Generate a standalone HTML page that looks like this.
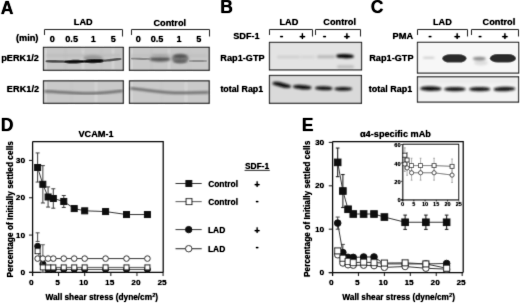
<!DOCTYPE html>
<html><head><meta charset="utf-8"><style>
html,body{margin:0;padding:0;background:#fff;overflow:hidden;}
svg{display:block;}
text{font-family:"Liberation Sans", sans-serif;font-weight:bold;fill:#000;}
</style></head><body>
<svg width="520" height="303" viewBox="0 0 520 303">
<defs>
<filter id="b0" x="-20%" y="-50%" width="140%" height="200%"><feGaussianBlur stdDeviation="0.5"/></filter>
<filter id="b1" x="-20%" y="-50%" width="140%" height="200%"><feGaussianBlur stdDeviation="0.8"/></filter>
<filter id="b2" x="-20%" y="-80%" width="140%" height="260%"><feGaussianBlur stdDeviation="1.3"/></filter>
<filter id="bt" x="0" y="0" width="520" height="303" filterUnits="userSpaceOnUse"><feConvolveMatrix order="3" kernelMatrix="0.0113 0.0838 0.0113 0.0838 0.6193 0.0838 0.0113 0.0838 0.0113" edgeMode="none"/></filter>
<filter id="btx" x="0" y="0" width="520" height="303" filterUnits="userSpaceOnUse"><feConvolveMatrix order="3" kernelMatrix="0.0192 0.1001 0.0192 0.1001 0.5228 0.1001 0.0192 0.1001 0.0192" edgeMode="none"/><feComponentTransfer><feFuncA type="table" tableValues="0 0.26 0.56 0.84 0.98 1"/></feComponentTransfer></filter>
</defs>
<rect width="520" height="303" fill="#fff"/>
<g filter="url(#bt)">

<rect x="43.5" y="47.4" width="79.80" height="22.90" fill="#c7c7c7"/>
<rect x="129.5" y="47.4" width="79.70" height="22.90" fill="#c8c8c8"/>
<rect x="43.5" y="80.85" width="79.80" height="22.45" fill="#c9c9c9"/>
<rect x="129.5" y="80.85" width="79.70" height="22.45" fill="#cacaca"/>
<rect x="45" y="48.5" width="1.2" height="21.5" fill="#e8e8e8" filter="url(#b1)"/>
<rect x="64" y="48.5" width="3" height="21.5" fill="#c2c2c2" filter="url(#b1)"/>
<rect x="82" y="48.5" width="2" height="21.5" fill="#d6d6d6" filter="url(#b1)"/>
<rect x="100" y="48.5" width="3" height="21.5" fill="#c4c4c4" filter="url(#b1)"/>
<rect x="112" y="48.5" width="2" height="21.5" fill="#d8d8d8" filter="url(#b1)"/>
<rect x="131" y="48.5" width="1.5" height="21.5" fill="#e0e0e0" filter="url(#b1)"/>
<rect x="150" y="48.5" width="3" height="21.5" fill="#c4c4c4" filter="url(#b1)"/>
<rect x="168" y="48.5" width="2" height="21.5" fill="#d8d8d8" filter="url(#b1)"/>
<rect x="188" y="48.5" width="3" height="21.5" fill="#c6c6c6" filter="url(#b1)"/>
<rect x="45" y="81.5" width="1.2" height="21.5" fill="#e4e4e4" filter="url(#b1)"/>
<rect x="70" y="81.5" width="3" height="21.5" fill="#c6c6c6" filter="url(#b1)"/>
<rect x="95" y="81.5" width="2" height="21.5" fill="#d8d8d8" filter="url(#b1)"/>
<rect x="131" y="81.5" width="1.5" height="21.5" fill="#e0e0e0" filter="url(#b1)"/>
<rect x="160" y="81.5" width="3" height="21.5" fill="#c8c8c8" filter="url(#b1)"/>
<rect x="185" y="81.5" width="2" height="21.5" fill="#dadada" filter="url(#b1)"/>
<rect x="46" y="54.00" width="75" height="3" rx="1.5" fill="#bdbdbd" opacity="1.0" filter="url(#b2)"/>
<rect x="131" y="54.30" width="76" height="3" rx="1.5" fill="#c0c0c0" opacity="1.0" filter="url(#b2)"/>
<path d="M46.44,60.16 C51.09,59.71 60.41,60.11 65.06,60.56 C66.31,60.56 66.31,62.64 65.06,62.64 C60.41,63.09 51.09,62.70 46.44,62.24 C45.19,62.24 45.19,60.16 46.44,60.16Z" fill="#4a4a4a" filter="url(#b0)"/>
<ellipse cx="93" cy="58.0" rx="10" ry="3.0" fill="#989898" filter="url(#b1)"/>
<path d="M65.63,60.54 C70.19,59.73 79.31,59.53 83.87,60.34 C85.38,60.34 85.38,62.86 83.87,62.86 C79.31,63.67 70.19,63.87 65.63,63.06 C64.12,63.06 64.12,60.54 65.63,60.54Z" fill="#0c0c0c" filter="url(#b0)"/>
<path d="M85.20,60.07 C89.60,59.21 98.40,58.61 102.80,59.47 C104.40,59.47 104.40,62.13 102.80,62.13 C98.40,62.98 89.60,63.59 85.20,62.73 C83.60,62.73 83.60,60.07 85.20,60.07Z" fill="#080808" filter="url(#b0)"/>
<path d="M103.94,59.56 C108.09,59.11 116.41,57.51 120.56,57.96 C121.81,57.96 121.81,60.04 120.56,60.04 C116.41,60.49 108.09,62.09 103.94,61.64 C102.69,61.64 102.69,59.56 103.94,59.56Z" fill="#505050" filter="url(#b0)"/>
<path d="M131.72,57.80 C136.11,57.45 144.89,57.85 149.28,58.20 C150.24,58.20 150.24,59.80 149.28,59.80 C144.89,60.15 136.11,59.75 131.72,59.40 C130.76,59.40 130.76,57.80 131.72,57.80Z" fill="#858585" filter="url(#b0)"/>
<ellipse cx="160" cy="59.2" rx="10.5" ry="2.6" fill="#5a5a5a" filter="url(#b1)"/>
<ellipse cx="160" cy="55.5" rx="9" ry="1.6" fill="#a8a8a8" filter="url(#b1)"/>
<ellipse cx="180.2" cy="58.6" rx="8.6" ry="4.8" fill="#7c7c7c" filter="url(#b1)"/>
<ellipse cx="180.2" cy="56.2" rx="7" ry="1.5" fill="#4a4a4a" filter="url(#b1)"/>
<ellipse cx="180.2" cy="61.2" rx="7" ry="1.4" fill="#5a5a5a" filter="url(#b1)"/>
<path d="M189.72,60.20 C193.86,59.85 202.14,59.85 206.28,60.20 C207.24,60.20 207.24,61.80 206.28,61.80 C202.14,62.15 193.86,62.15 189.72,61.80 C188.76,61.80 188.76,60.20 189.72,60.20Z" fill="#8a8a8a" filter="url(#b0)"/>
<path d="M44.5,91.3 C60,91.6 75,93.6 90,93.4 C105,93.2 115,91.8 122.5,90.8" fill="none" stroke="#5c5c5c" stroke-width="2.3" filter="url(#b1)"/>
<path d="M130.5,88.4 C145,89.6 160,92.4 175,92.8 C190,93.0 200,92.8 208.5,92.4" fill="none" stroke="#5c5c5c" stroke-width="2.3" filter="url(#b1)"/>
<rect x="269.5" y="42.45" width="92.00" height="27.45" fill="#e3e3e3"/>
<rect x="269.5" y="75.5" width="91.90" height="27.80" fill="#dadada"/>
<rect x="277" y="55.75" width="23" height="2.5" rx="1.25" fill="#cdcdcd" opacity="1.0" filter="url(#b2)"/>
<rect x="300" y="55.75" width="15" height="2.5" rx="1.25" fill="#d3d3d3" opacity="1.0" filter="url(#b2)"/>
<rect x="317" y="55.30" width="18" height="3" rx="1.5" fill="#b8b8b8" opacity="1.0" filter="url(#b2)"/>
<path d="M337.62,54.53 C341.34,53.59 348.76,53.98 352.48,54.93 C354.24,54.93 354.24,57.87 352.48,57.87 C348.76,58.81 341.34,58.41 337.62,57.47 C335.86,57.47 335.86,54.53 337.62,54.53Z" fill="#050505" filter="url(#b1)"/>
<rect x="337" y="65.30" width="17" height="3" rx="1.5" fill="#bdbdbd" opacity="1.0" filter="url(#b2)"/>
<path d="M273.84,82.02 C277.77,80.76 285.63,83.76 289.56,85.02 C291.21,85.02 291.21,87.78 289.56,87.78 C285.63,89.05 277.77,86.05 273.84,84.78 C272.19,84.78 272.19,82.02 273.84,82.02Z" fill="#080808" filter="url(#b1)"/>
<path d="M294.39,85.28 C298.34,84.07 306.26,85.07 310.21,86.28 C311.80,86.28 311.80,88.92 310.21,88.92 C306.26,90.13 298.34,89.13 294.39,87.92 C292.80,87.92 292.80,85.28 294.39,85.28Z" fill="#0a0a0a" filter="url(#b1)"/>
<path d="M316.25,87.03 C320.03,85.96 327.57,86.26 331.35,87.33 C332.75,87.33 332.75,89.67 331.35,89.67 C327.57,90.74 320.03,90.44 316.25,89.37 C314.85,89.37 314.85,87.03 316.25,87.03Z" fill="#0c0c0c" filter="url(#b1)"/>
<path d="M335.65,87.63 C339.48,86.56 347.12,86.66 350.95,87.73 C352.35,87.73 352.35,90.07 350.95,90.07 C347.12,91.14 339.48,91.04 335.65,89.97 C334.25,89.97 334.25,87.63 335.65,87.63Z" fill="#0c0c0c" filter="url(#b1)"/>
<rect x="417.5" y="42.4" width="101.10" height="30.70" fill="#f7f7f7"/>
<rect x="417.5" y="76.8" width="101.00" height="25.30" fill="#f3f3f3"/>
<rect x="419" y="78.50" width="98" height="5" rx="2.5" fill="#ebebeb" opacity="1.0" filter="url(#b2)"/>
<rect x="423" y="57.00" width="11.5" height="1.6" rx="0.8" fill="#c0c0c0" opacity="1.0" filter="url(#b2)"/>
<rect x="442.2" y="54.3" width="24.4" height="8.3" rx="8" ry="4.15" fill="#2a2a2a" filter="url(#b0)"/>
<ellipse cx="481" cy="62.8" rx="7" ry="2.6" fill="#dedede" filter="url(#b2)"/>
<ellipse cx="479.3" cy="58.7" rx="6.5" ry="1.9" fill="#8a8a8a" filter="url(#b1)"/>
<rect x="489.8" y="54.0" width="26.2" height="8.5" rx="8" ry="4.25" fill="#2a2a2a" filter="url(#b0)"/>
<path d="M421.44,87.14 C426.14,85.76 435.56,86.16 440.26,87.53 C441.78,87.53 441.78,90.06 440.26,90.06 C435.56,91.44 426.14,91.05 421.44,89.67 C419.92,89.67 419.92,87.14 421.44,87.14Z" fill="#101010" filter="url(#b1)"/>
<path d="M445.39,87.89 C450.14,86.57 459.66,86.57 464.41,87.89 C465.86,87.89 465.86,90.31 464.41,90.31 C459.66,91.63 450.14,91.63 445.39,90.31 C443.94,90.31 443.94,87.89 445.39,87.89Z" fill="#121212" filter="url(#b1)"/>
<path d="M470.39,87.89 C475.07,86.57 484.43,86.57 489.11,87.89 C490.56,87.89 490.56,90.31 489.11,90.31 C484.43,91.63 475.07,91.63 470.39,90.31 C468.94,90.31 468.94,87.89 470.39,87.89Z" fill="#121212" filter="url(#b1)"/>
<path d="M494.94,87.94 C499.67,86.56 509.13,86.16 513.86,87.53 C515.38,87.53 515.38,90.06 513.86,90.06 C509.13,91.44 499.67,91.84 494.94,90.47 C493.42,90.47 493.42,87.94 494.94,87.94Z" fill="#121212" filter="url(#b1)"/>
<rect x="43.5" y="47.4" width="79.80" height="22.90" fill="none" stroke="#1c1c1c" stroke-width="1.2"/>
<rect x="129.5" y="47.4" width="79.70" height="22.90" fill="none" stroke="#1c1c1c" stroke-width="1.2"/>
<rect x="43.5" y="80.85" width="79.80" height="22.45" fill="none" stroke="#1c1c1c" stroke-width="1.2"/>
<rect x="129.5" y="80.85" width="79.70" height="22.45" fill="none" stroke="#1c1c1c" stroke-width="1.2"/>
<rect x="269.5" y="42.45" width="92.00" height="27.45" fill="none" stroke="#1c1c1c" stroke-width="1.2"/>
<rect x="269.5" y="75.5" width="91.90" height="27.80" fill="none" stroke="#1c1c1c" stroke-width="1.2"/>
<rect x="417.5" y="42.4" width="101.10" height="30.70" fill="none" stroke="#1c1c1c" stroke-width="1.2"/>
<rect x="417.5" y="76.8" width="101.00" height="25.30" fill="none" stroke="#1c1c1c" stroke-width="1.2"/>
<polyline points="44.5,35.0 44.5,29.5 122.5,29.5 122.5,36.5" fill="none" stroke="#222" stroke-width="1"/>
<polyline points="131.5,35.0 131.5,29.5 209.5,29.5 209.5,36.5" fill="none" stroke="#222" stroke-width="1"/>
<polyline points="269.5,35.0 269.5,29.5 312.5,29.5 312.5,36.5" fill="none" stroke="#222" stroke-width="1"/>
<polyline points="315.5,35.0 315.5,29.5 360.5,29.5 360.5,36.5" fill="none" stroke="#222" stroke-width="1"/>
<polyline points="417.5,35.0 417.5,29.5 467.5,29.5 467.5,36.5" fill="none" stroke="#222" stroke-width="1"/>
<polyline points="471.5,35.0 471.5,29.5 518.5,29.5 518.5,36.5" fill="none" stroke="#222" stroke-width="1"/>
<path d="M32.6 141.6 H163.2 V272.4 M32.6 141.6 V276 M29 272.4 H163.2" fill="none" stroke="#000" stroke-width="1.25"/>
<line x1="29.00" y1="272.40" x2="32.50" y2="272.40" stroke="#111" stroke-width="1"/>
<line x1="29.00" y1="235.07" x2="32.50" y2="235.07" stroke="#111" stroke-width="1"/>
<line x1="29.00" y1="197.74" x2="32.50" y2="197.74" stroke="#111" stroke-width="1"/>
<line x1="29.00" y1="160.41" x2="32.50" y2="160.41" stroke="#111" stroke-width="1"/>
<line x1="58.54" y1="272.40" x2="58.54" y2="276.00" stroke="#111" stroke-width="1"/>
<line x1="84.68" y1="272.40" x2="84.68" y2="276.00" stroke="#111" stroke-width="1"/>
<line x1="110.82" y1="272.40" x2="110.82" y2="276.00" stroke="#111" stroke-width="1"/>
<line x1="136.96" y1="272.40" x2="136.96" y2="276.00" stroke="#111" stroke-width="1"/>
<line x1="163.10" y1="272.40" x2="163.10" y2="276.00" stroke="#111" stroke-width="1"/>
<line x1="37.63" y1="152.94" x2="37.63" y2="182.06" stroke="#3a3a3a" stroke-width="1"/>
<line x1="35.63" y1="152.94" x2="39.63" y2="152.94" stroke="#3a3a3a" stroke-width="1"/>
<line x1="35.63" y1="182.06" x2="39.63" y2="182.06" stroke="#3a3a3a" stroke-width="1"/>
<line x1="42.86" y1="165.64" x2="42.86" y2="202.97" stroke="#3a3a3a" stroke-width="1"/>
<line x1="40.86" y1="165.64" x2="44.86" y2="165.64" stroke="#3a3a3a" stroke-width="1"/>
<line x1="40.86" y1="202.97" x2="44.86" y2="202.97" stroke="#3a3a3a" stroke-width="1"/>
<line x1="48.08" y1="186.91" x2="48.08" y2="207.07" stroke="#3a3a3a" stroke-width="1"/>
<line x1="46.08" y1="186.91" x2="50.08" y2="186.91" stroke="#3a3a3a" stroke-width="1"/>
<line x1="46.08" y1="207.07" x2="50.08" y2="207.07" stroke="#3a3a3a" stroke-width="1"/>
<line x1="53.31" y1="188.78" x2="53.31" y2="208.19" stroke="#3a3a3a" stroke-width="1"/>
<line x1="51.31" y1="188.78" x2="55.31" y2="188.78" stroke="#3a3a3a" stroke-width="1"/>
<line x1="51.31" y1="208.19" x2="55.31" y2="208.19" stroke="#3a3a3a" stroke-width="1"/>
<line x1="63.77" y1="195.50" x2="63.77" y2="207.45" stroke="#3a3a3a" stroke-width="1"/>
<line x1="61.77" y1="195.50" x2="65.77" y2="195.50" stroke="#3a3a3a" stroke-width="1"/>
<line x1="61.77" y1="207.45" x2="65.77" y2="207.45" stroke="#3a3a3a" stroke-width="1"/>
<polyline points="37.63,167.50 42.86,184.30 48.08,196.99 53.31,198.49 63.77,201.47 74.22,208.57 84.68,210.81 105.59,211.55 126.50,214.54 147.42,214.54" fill="none" stroke="#333" stroke-width="1"/>
<rect x="34.63" y="164.50" width="6" height="6" fill="#111" stroke="#111" stroke-width="1.0"/>
<rect x="39.86" y="181.30" width="6" height="6" fill="#111" stroke="#111" stroke-width="1.0"/>
<rect x="45.08" y="193.99" width="6" height="6" fill="#111" stroke="#111" stroke-width="1.0"/>
<rect x="50.31" y="195.49" width="6" height="6" fill="#111" stroke="#111" stroke-width="1.0"/>
<rect x="60.77" y="198.47" width="6" height="6" fill="#111" stroke="#111" stroke-width="1.0"/>
<rect x="71.22" y="205.57" width="6" height="6" fill="#111" stroke="#111" stroke-width="1.0"/>
<rect x="81.68" y="207.81" width="6" height="6" fill="#111" stroke="#111" stroke-width="1.0"/>
<rect x="102.59" y="208.55" width="6" height="6" fill="#111" stroke="#111" stroke-width="1.0"/>
<rect x="123.50" y="211.54" width="6" height="6" fill="#111" stroke="#111" stroke-width="1.0"/>
<rect x="144.42" y="211.54" width="6" height="6" fill="#111" stroke="#111" stroke-width="1.0"/>
<line x1="37.63" y1="232.83" x2="37.63" y2="241.42" stroke="#444" stroke-width="1"/>
<line x1="35.63" y1="232.83" x2="39.63" y2="232.83" stroke="#444" stroke-width="1"/>
<line x1="35.63" y1="241.42" x2="39.63" y2="241.42" stroke="#444" stroke-width="1"/>
<line x1="42.86" y1="244.78" x2="42.86" y2="272.40" stroke="#555" stroke-width="1"/>
<line x1="40.86" y1="244.78" x2="44.86" y2="244.78" stroke="#555" stroke-width="1"/>
<line x1="40.86" y1="272.40" x2="44.86" y2="272.40" stroke="#555" stroke-width="1"/>
<polyline points="37.63,246.27 42.86,263.81 48.08,269.41 53.31,269.41 63.77,269.41 74.22,269.41 84.68,269.41 105.59,269.41 126.50,269.41 147.42,269.41" fill="none" stroke="#444" stroke-width="1"/>
<circle cx="37.63" cy="246.27" r="3.0" fill="#111" stroke="#111" stroke-width="1.0"/>
<circle cx="42.86" cy="263.81" r="3.0" fill="#111" stroke="#111" stroke-width="1.0"/>
<circle cx="48.08" cy="269.41" r="3.0" fill="#111" stroke="#111" stroke-width="1.0"/>
<circle cx="53.31" cy="269.41" r="3.0" fill="#111" stroke="#111" stroke-width="1.0"/>
<circle cx="63.77" cy="269.41" r="3.0" fill="#111" stroke="#111" stroke-width="1.0"/>
<circle cx="74.22" cy="269.41" r="3.0" fill="#111" stroke="#111" stroke-width="1.0"/>
<circle cx="84.68" cy="269.41" r="3.0" fill="#111" stroke="#111" stroke-width="1.0"/>
<circle cx="105.59" cy="269.41" r="3.0" fill="#111" stroke="#111" stroke-width="1.0"/>
<circle cx="126.50" cy="269.41" r="3.0" fill="#111" stroke="#111" stroke-width="1.0"/>
<circle cx="147.42" cy="269.41" r="3.0" fill="#111" stroke="#111" stroke-width="1.0"/>
<polyline points="37.63,258.59 42.86,258.59 48.08,258.59 53.31,258.59 63.77,258.59 74.22,258.59 84.68,258.59 105.59,258.59 126.50,258.59 147.42,258.59" fill="none" stroke="#333" stroke-width="1"/>
<circle cx="37.63" cy="258.59" r="2.8" fill="#fff" stroke="#111" stroke-width="1.0"/>
<circle cx="42.86" cy="258.59" r="2.8" fill="#fff" stroke="#111" stroke-width="1.0"/>
<circle cx="48.08" cy="258.59" r="2.8" fill="#fff" stroke="#111" stroke-width="1.0"/>
<circle cx="53.31" cy="258.59" r="2.8" fill="#fff" stroke="#111" stroke-width="1.0"/>
<circle cx="63.77" cy="258.59" r="2.8" fill="#fff" stroke="#111" stroke-width="1.0"/>
<circle cx="74.22" cy="258.59" r="2.8" fill="#fff" stroke="#111" stroke-width="1.0"/>
<circle cx="84.68" cy="258.59" r="2.8" fill="#fff" stroke="#111" stroke-width="1.0"/>
<circle cx="105.59" cy="258.59" r="2.8" fill="#fff" stroke="#111" stroke-width="1.0"/>
<circle cx="126.50" cy="258.59" r="2.8" fill="#fff" stroke="#111" stroke-width="1.0"/>
<circle cx="147.42" cy="258.59" r="2.8" fill="#fff" stroke="#111" stroke-width="1.0"/>
<polyline points="37.63,251.12 42.86,267.40 48.08,267.40 53.31,267.40 63.77,267.40 74.22,267.40 84.68,267.40 105.59,267.40 126.50,267.40 147.42,267.40" fill="none" stroke="#555" stroke-width="1"/>
<rect x="35.13" y="248.62" width="5.0" height="5.0" fill="#fff" stroke="#111" stroke-width="1.0"/>
<rect x="40.36" y="264.90" width="5.0" height="5.0" fill="#fff" stroke="#111" stroke-width="1.0"/>
<rect x="45.58" y="264.90" width="5.0" height="5.0" fill="#fff" stroke="#111" stroke-width="1.0"/>
<rect x="50.81" y="264.90" width="5.0" height="5.0" fill="#fff" stroke="#111" stroke-width="1.0"/>
<rect x="61.27" y="264.90" width="5.0" height="5.0" fill="#fff" stroke="#111" stroke-width="1.0"/>
<rect x="71.72" y="264.90" width="5.0" height="5.0" fill="#fff" stroke="#111" stroke-width="1.0"/>
<rect x="82.18" y="264.90" width="5.0" height="5.0" fill="#fff" stroke="#111" stroke-width="1.0"/>
<rect x="103.09" y="264.90" width="5.0" height="5.0" fill="#fff" stroke="#111" stroke-width="1.0"/>
<rect x="124.00" y="264.90" width="5.0" height="5.0" fill="#fff" stroke="#111" stroke-width="1.0"/>
<rect x="144.92" y="264.90" width="5.0" height="5.0" fill="#fff" stroke="#111" stroke-width="1.0"/>
<line x1="244.60" y1="170.40" x2="269.80" y2="170.40" stroke="#111" stroke-width="0.9"/>
<line x1="175.50" y1="183.50" x2="201.70" y2="183.50" stroke="#333" stroke-width="1"/>
<rect x="185.90" y="180.55" width="5.9" height="5.9" fill="#111" stroke="#111" stroke-width="1.0"/>
<line x1="175.50" y1="201.60" x2="201.70" y2="201.60" stroke="#666" stroke-width="1.1"/>
<rect x="186.05" y="198.65" width="5.9" height="5.9" fill="#fff" stroke="#111" stroke-width="1.0"/>
<line x1="175.50" y1="229.60" x2="201.70" y2="229.60" stroke="#333" stroke-width="1"/>
<circle cx="188.70" cy="229.60" r="3.2" fill="#111" stroke="#111" stroke-width="1.0"/>
<line x1="175.50" y1="248.70" x2="201.70" y2="248.70" stroke="#333" stroke-width="1.1"/>
<circle cx="188.70" cy="248.70" r="3.2" fill="#fff" stroke="#111" stroke-width="1.0"/>
<path d="M332.6 141.6 H463.2 V272.6 M332.6 141.6 V276 M328.8 272.6 H463.2" fill="none" stroke="#000" stroke-width="1.25"/>
<line x1="328.80" y1="272.60" x2="332.60" y2="272.60" stroke="#111" stroke-width="1"/>
<line x1="328.80" y1="229.20" x2="332.60" y2="229.20" stroke="#111" stroke-width="1"/>
<line x1="328.80" y1="185.80" x2="332.60" y2="185.80" stroke="#111" stroke-width="1"/>
<line x1="328.80" y1="142.40" x2="332.60" y2="142.40" stroke="#111" stroke-width="1"/>
<line x1="358.44" y1="272.60" x2="358.44" y2="276.00" stroke="#111" stroke-width="1"/>
<line x1="384.38" y1="272.60" x2="384.38" y2="276.00" stroke="#111" stroke-width="1"/>
<line x1="410.32" y1="272.60" x2="410.32" y2="276.00" stroke="#111" stroke-width="1"/>
<line x1="436.26" y1="272.60" x2="436.26" y2="276.00" stroke="#111" stroke-width="1"/>
<line x1="462.20" y1="272.60" x2="462.20" y2="276.00" stroke="#111" stroke-width="1"/>
<line x1="337.69" y1="148.04" x2="337.69" y2="176.69" stroke="#222" stroke-width="1.1"/>
<line x1="335.89" y1="148.04" x2="339.49" y2="148.04" stroke="#222" stroke-width="1.1"/>
<line x1="335.89" y1="176.69" x2="339.49" y2="176.69" stroke="#222" stroke-width="1.1"/>
<line x1="342.88" y1="174.52" x2="342.88" y2="207.50" stroke="#222" stroke-width="1.1"/>
<line x1="341.08" y1="174.52" x2="344.68" y2="174.52" stroke="#222" stroke-width="1.1"/>
<line x1="341.08" y1="207.50" x2="344.68" y2="207.50" stroke="#222" stroke-width="1.1"/>
<line x1="405.13" y1="215.10" x2="405.13" y2="229.42" stroke="#222" stroke-width="1.1"/>
<line x1="403.33" y1="215.10" x2="406.93" y2="215.10" stroke="#222" stroke-width="1.1"/>
<line x1="403.33" y1="229.42" x2="406.93" y2="229.42" stroke="#222" stroke-width="1.1"/>
<line x1="425.88" y1="215.10" x2="425.88" y2="229.42" stroke="#222" stroke-width="1.1"/>
<line x1="424.08" y1="215.10" x2="427.68" y2="215.10" stroke="#222" stroke-width="1.1"/>
<line x1="424.08" y1="229.42" x2="427.68" y2="229.42" stroke="#222" stroke-width="1.1"/>
<line x1="446.64" y1="215.10" x2="446.64" y2="229.42" stroke="#222" stroke-width="1.1"/>
<line x1="444.84" y1="215.10" x2="448.44" y2="215.10" stroke="#222" stroke-width="1.1"/>
<line x1="444.84" y1="229.42" x2="448.44" y2="229.42" stroke="#222" stroke-width="1.1"/>
<polyline points="337.69,162.36 342.88,191.01 348.06,209.24 353.25,214.01 363.63,214.01 374.00,214.01 384.38,217.05 405.13,222.26 425.88,222.26 446.64,222.26" fill="none" stroke="#333" stroke-width="1"/>
<rect x="334.39" y="159.06" width="6.6" height="6.6" fill="#111" stroke="#111" stroke-width="1.0"/>
<rect x="339.58" y="187.71" width="6.6" height="6.6" fill="#111" stroke="#111" stroke-width="1.0"/>
<rect x="344.76" y="205.94" width="6.6" height="6.6" fill="#111" stroke="#111" stroke-width="1.0"/>
<rect x="349.95" y="210.71" width="6.6" height="6.6" fill="#111" stroke="#111" stroke-width="1.0"/>
<rect x="360.33" y="210.71" width="6.6" height="6.6" fill="#111" stroke="#111" stroke-width="1.0"/>
<rect x="370.70" y="210.71" width="6.6" height="6.6" fill="#111" stroke="#111" stroke-width="1.0"/>
<rect x="381.08" y="213.75" width="6.6" height="6.6" fill="#111" stroke="#111" stroke-width="1.0"/>
<rect x="401.83" y="218.96" width="6.6" height="6.6" fill="#111" stroke="#111" stroke-width="1.0"/>
<rect x="422.58" y="218.96" width="6.6" height="6.6" fill="#111" stroke="#111" stroke-width="1.0"/>
<rect x="443.34" y="218.96" width="6.6" height="6.6" fill="#111" stroke="#111" stroke-width="1.0"/>
<line x1="337.69" y1="217.05" x2="337.69" y2="229.20" stroke="#444" stroke-width="1"/>
<line x1="335.69" y1="217.05" x2="339.69" y2="217.05" stroke="#444" stroke-width="1"/>
<line x1="335.69" y1="229.20" x2="339.69" y2="229.20" stroke="#444" stroke-width="1"/>
<line x1="342.88" y1="244.39" x2="342.88" y2="261.75" stroke="#444" stroke-width="1"/>
<line x1="340.88" y1="244.39" x2="344.88" y2="244.39" stroke="#444" stroke-width="1"/>
<line x1="340.88" y1="261.75" x2="344.88" y2="261.75" stroke="#444" stroke-width="1"/>
<polyline points="337.69,223.12 342.88,252.64 348.06,257.41 353.25,257.41 363.63,256.98 374.00,256.98 384.38,263.92 405.13,263.92 425.88,263.92 446.64,263.49" fill="none" stroke="#333" stroke-width="1"/>
<circle cx="337.69" cy="223.12" r="3.3" fill="#111" stroke="#111" stroke-width="1.0"/>
<circle cx="342.88" cy="252.64" r="3.3" fill="#111" stroke="#111" stroke-width="1.0"/>
<circle cx="348.06" cy="257.41" r="3.3" fill="#111" stroke="#111" stroke-width="1.0"/>
<circle cx="353.25" cy="257.41" r="3.3" fill="#111" stroke="#111" stroke-width="1.0"/>
<circle cx="363.63" cy="256.98" r="3.3" fill="#111" stroke="#111" stroke-width="1.0"/>
<circle cx="374.00" cy="256.98" r="3.3" fill="#111" stroke="#111" stroke-width="1.0"/>
<circle cx="384.38" cy="263.92" r="3.3" fill="#111" stroke="#111" stroke-width="1.0"/>
<circle cx="405.13" cy="263.92" r="3.3" fill="#111" stroke="#111" stroke-width="1.0"/>
<circle cx="425.88" cy="263.92" r="3.3" fill="#111" stroke="#111" stroke-width="1.0"/>
<circle cx="446.64" cy="263.49" r="3.3" fill="#111" stroke="#111" stroke-width="1.0"/>
<polyline points="337.69,254.81 342.88,263.05 348.06,264.79 353.25,265.22 363.63,265.22 374.00,265.66 384.38,267.39 405.13,266.52 425.88,268.26 446.64,269.13" fill="none" stroke="#333" stroke-width="1"/>
<circle cx="337.69" cy="254.81" r="3.2" fill="#fff" stroke="#111" stroke-width="1.0"/>
<circle cx="342.88" cy="263.05" r="3.2" fill="#fff" stroke="#111" stroke-width="1.0"/>
<circle cx="348.06" cy="264.79" r="3.2" fill="#fff" stroke="#111" stroke-width="1.0"/>
<circle cx="353.25" cy="265.22" r="3.2" fill="#fff" stroke="#111" stroke-width="1.0"/>
<circle cx="363.63" cy="265.22" r="3.2" fill="#fff" stroke="#111" stroke-width="1.0"/>
<circle cx="374.00" cy="265.66" r="3.2" fill="#fff" stroke="#111" stroke-width="1.0"/>
<circle cx="384.38" cy="267.39" r="3.2" fill="#fff" stroke="#111" stroke-width="1.0"/>
<circle cx="405.13" cy="266.52" r="3.2" fill="#fff" stroke="#111" stroke-width="1.0"/>
<circle cx="425.88" cy="268.26" r="3.2" fill="#fff" stroke="#111" stroke-width="1.0"/>
<circle cx="446.64" cy="269.13" r="3.2" fill="#fff" stroke="#111" stroke-width="1.0"/>
<polyline points="337.69,250.90 342.88,258.28 348.06,261.53 353.25,262.62 363.63,262.18 374.00,262.62 384.38,263.05 405.13,262.84 425.88,263.92 446.64,268.26" fill="none" stroke="#333" stroke-width="1"/>
<rect x="334.69" y="247.90" width="6" height="6" fill="#fff" stroke="#111" stroke-width="1.0"/>
<rect x="339.88" y="255.28" width="6" height="6" fill="#fff" stroke="#111" stroke-width="1.0"/>
<rect x="345.06" y="258.53" width="6" height="6" fill="#fff" stroke="#111" stroke-width="1.0"/>
<rect x="350.25" y="259.62" width="6" height="6" fill="#fff" stroke="#111" stroke-width="1.0"/>
<rect x="360.63" y="259.18" width="6" height="6" fill="#fff" stroke="#111" stroke-width="1.0"/>
<rect x="371.00" y="259.62" width="6" height="6" fill="#fff" stroke="#111" stroke-width="1.0"/>
<rect x="381.38" y="260.05" width="6" height="6" fill="#fff" stroke="#111" stroke-width="1.0"/>
<rect x="402.13" y="259.84" width="6" height="6" fill="#fff" stroke="#111" stroke-width="1.0"/>
<rect x="422.88" y="260.92" width="6" height="6" fill="#fff" stroke="#111" stroke-width="1.0"/>
<rect x="443.64" y="265.26" width="6" height="6" fill="#fff" stroke="#111" stroke-width="1.0"/>
<rect x="402.6" y="144.0" width="56.0" height="55.8" fill="#fff" stroke="none"/>
<path d="M402.8 144.3 H458.6 V199.8 M402.8 144.3 V201.5 M400.8 199.8 H458.6" fill="none" stroke="#000" stroke-width="1.2"/>
<line x1="400.80" y1="199.80" x2="402.60" y2="199.80" stroke="#111" stroke-width="0.8"/>
<line x1="400.80" y1="181.37" x2="402.60" y2="181.37" stroke="#111" stroke-width="0.8"/>
<line x1="400.80" y1="162.93" x2="402.60" y2="162.93" stroke="#111" stroke-width="0.8"/>
<line x1="400.80" y1="144.50" x2="402.60" y2="144.50" stroke="#111" stroke-width="0.8"/>
<line x1="413.84" y1="199.80" x2="413.84" y2="201.50" stroke="#111" stroke-width="0.8"/>
<line x1="425.08" y1="199.80" x2="425.08" y2="201.50" stroke="#111" stroke-width="0.8"/>
<line x1="436.32" y1="199.80" x2="436.32" y2="201.50" stroke="#111" stroke-width="0.8"/>
<line x1="447.56" y1="199.80" x2="447.56" y2="201.50" stroke="#111" stroke-width="0.8"/>
<line x1="458.80" y1="199.80" x2="458.80" y2="201.50" stroke="#111" stroke-width="0.8"/>
<line x1="404.85" y1="147.82" x2="404.85" y2="162.56" stroke="#777" stroke-width="0.6"/>
<line x1="403.95" y1="147.82" x2="405.75" y2="147.82" stroke="#777" stroke-width="0.6"/>
<line x1="403.95" y1="162.56" x2="405.75" y2="162.56" stroke="#777" stroke-width="0.6"/>
<line x1="407.10" y1="152.61" x2="407.10" y2="167.36" stroke="#777" stroke-width="0.6"/>
<line x1="406.20" y1="152.61" x2="408.00" y2="152.61" stroke="#777" stroke-width="0.6"/>
<line x1="406.20" y1="167.36" x2="408.00" y2="167.36" stroke="#777" stroke-width="0.6"/>
<line x1="411.59" y1="158.23" x2="411.59" y2="172.98" stroke="#777" stroke-width="0.6"/>
<line x1="410.69" y1="158.23" x2="412.49" y2="158.23" stroke="#777" stroke-width="0.6"/>
<line x1="410.69" y1="172.98" x2="412.49" y2="172.98" stroke="#777" stroke-width="0.6"/>
<line x1="420.58" y1="158.23" x2="420.58" y2="172.98" stroke="#777" stroke-width="0.6"/>
<line x1="419.68" y1="158.23" x2="421.48" y2="158.23" stroke="#777" stroke-width="0.6"/>
<line x1="419.68" y1="172.98" x2="421.48" y2="172.98" stroke="#777" stroke-width="0.6"/>
<line x1="434.07" y1="158.23" x2="434.07" y2="172.98" stroke="#777" stroke-width="0.6"/>
<line x1="433.17" y1="158.23" x2="434.97" y2="158.23" stroke="#777" stroke-width="0.6"/>
<line x1="433.17" y1="172.98" x2="434.97" y2="172.98" stroke="#777" stroke-width="0.6"/>
<line x1="452.06" y1="158.97" x2="452.06" y2="173.72" stroke="#777" stroke-width="0.6"/>
<line x1="451.16" y1="158.97" x2="452.96" y2="158.97" stroke="#777" stroke-width="0.6"/>
<line x1="451.16" y1="173.72" x2="452.96" y2="173.72" stroke="#777" stroke-width="0.6"/>
<line x1="404.85" y1="156.66" x2="404.85" y2="171.41" stroke="#777" stroke-width="0.6"/>
<line x1="403.95" y1="156.66" x2="405.75" y2="156.66" stroke="#777" stroke-width="0.6"/>
<line x1="403.95" y1="171.41" x2="405.75" y2="171.41" stroke="#777" stroke-width="0.6"/>
<line x1="407.10" y1="160.54" x2="407.10" y2="175.28" stroke="#777" stroke-width="0.6"/>
<line x1="406.20" y1="160.54" x2="408.00" y2="160.54" stroke="#777" stroke-width="0.6"/>
<line x1="406.20" y1="175.28" x2="408.00" y2="175.28" stroke="#777" stroke-width="0.6"/>
<line x1="411.59" y1="165.42" x2="411.59" y2="180.17" stroke="#777" stroke-width="0.6"/>
<line x1="410.69" y1="165.42" x2="412.49" y2="165.42" stroke="#777" stroke-width="0.6"/>
<line x1="410.69" y1="180.17" x2="412.49" y2="180.17" stroke="#777" stroke-width="0.6"/>
<line x1="420.58" y1="165.42" x2="420.58" y2="180.17" stroke="#777" stroke-width="0.6"/>
<line x1="419.68" y1="165.42" x2="421.48" y2="165.42" stroke="#777" stroke-width="0.6"/>
<line x1="419.68" y1="180.17" x2="421.48" y2="180.17" stroke="#777" stroke-width="0.6"/>
<line x1="434.07" y1="165.42" x2="434.07" y2="180.17" stroke="#777" stroke-width="0.6"/>
<line x1="433.17" y1="165.42" x2="434.97" y2="165.42" stroke="#777" stroke-width="0.6"/>
<line x1="433.17" y1="180.17" x2="434.97" y2="180.17" stroke="#777" stroke-width="0.6"/>
<line x1="452.06" y1="167.72" x2="452.06" y2="182.47" stroke="#777" stroke-width="0.6"/>
<line x1="451.16" y1="167.72" x2="452.96" y2="167.72" stroke="#777" stroke-width="0.6"/>
<line x1="451.16" y1="182.47" x2="452.96" y2="182.47" stroke="#777" stroke-width="0.6"/>
<polyline points="404.85,155.19 407.10,159.98 411.59,165.60 420.58,165.60 434.07,165.60 452.06,166.34" fill="none" stroke="#333" stroke-width="0.7"/>
<polyline points="404.85,164.04 407.10,167.91 411.59,172.79 420.58,172.79 434.07,172.79 452.06,175.10" fill="none" stroke="#333" stroke-width="0.7"/>
<rect x="402.85" y="153.19" width="4.0" height="4.0" fill="#fff" stroke="#111" stroke-width="0.8"/>
<rect x="405.10" y="157.98" width="4.0" height="4.0" fill="#fff" stroke="#111" stroke-width="0.8"/>
<rect x="409.59" y="163.60" width="4.0" height="4.0" fill="#fff" stroke="#111" stroke-width="0.8"/>
<rect x="418.58" y="163.60" width="4.0" height="4.0" fill="#fff" stroke="#111" stroke-width="0.8"/>
<rect x="432.07" y="163.60" width="4.0" height="4.0" fill="#fff" stroke="#111" stroke-width="0.8"/>
<rect x="450.06" y="164.34" width="4.0" height="4.0" fill="#fff" stroke="#111" stroke-width="0.8"/>
<circle cx="404.85" cy="164.04" r="2.1" fill="#fff" stroke="#111" stroke-width="0.8"/>
<circle cx="407.10" cy="167.91" r="2.1" fill="#fff" stroke="#111" stroke-width="0.8"/>
<circle cx="411.59" cy="172.79" r="2.1" fill="#fff" stroke="#111" stroke-width="0.8"/>
<circle cx="420.58" cy="172.79" r="2.1" fill="#fff" stroke="#111" stroke-width="0.8"/>
<circle cx="434.07" cy="172.79" r="2.1" fill="#fff" stroke="#111" stroke-width="0.8"/>
<circle cx="452.06" cy="175.10" r="2.1" fill="#fff" stroke="#111" stroke-width="0.8"/>
</g>
<g filter="url(#btx)">
<text x="0.86" y="14.00" font-size="17.6">A</text>
<text x="220.29" y="13.00" font-size="17.6">B</text>
<text x="370.73" y="13.00" font-size="17.6">C</text>
<text x="0.74" y="131.00" font-size="17.6">D</text>
<text x="301.78" y="131.00" font-size="17.6">E</text>
<text x="1.16" y="61.00" font-size="9.2" transform="matrix(1,0,0,1.07,0,-4.270)">pERK1/2</text>
<text x="6.87" y="92.00" font-size="9.2" transform="matrix(1,0,0,1.07,0,-6.440)">ERK1/2</text>
<text x="220.32" y="61.00" font-size="9.2" transform="matrix(1,0,0,1.07,0,-4.270)">Rap1-GTP</text>
<text x="220.41" y="92.00" font-size="9.2" textLength="42.70" lengthAdjust="spacingAndGlyphs" transform="matrix(1,0,0,1.07,0,-6.440)">total Rap1</text>
<text x="369.17" y="61.00" font-size="9.2" transform="matrix(1,0,0,1.07,0,-4.270)">Rap1-GTP</text>
<text x="368.81" y="92.00" font-size="9.2" textLength="43.51" lengthAdjust="spacingAndGlyphs" transform="matrix(1,0,0,1.07,0,-6.440)">total Rap1</text>
<text x="233.14" y="39.00" font-size="9.2" transform="matrix(1,0,0,1.07,0,-2.730)">SDF-1</text>
<text x="392.61" y="39.00" font-size="9.2" transform="matrix(1,0,0,1.07,0,-2.730)">PMA</text>
<text x="15.97" y="41.00" font-size="9.2" transform="matrix(1,0,0,1.07,0,-2.870)">(min)</text>
<text x="73.83" y="25.00" font-size="9.2" transform="matrix(1,0,0,1.07,0,-1.750)">LAD</text>
<text x="153.41" y="26.00" font-size="9.2" transform="matrix(1,0,0,1.07,0,-1.820)">Control</text>
<text x="279.43" y="25.00" font-size="9.2" transform="matrix(1,0,0,1.07,0,-1.750)">LAD</text>
<text x="323.36" y="25.00" font-size="9.2" transform="matrix(1,0,0,1.07,0,-1.750)">Control</text>
<text x="432.93" y="25.00" font-size="9.2" transform="matrix(1,0,0,1.07,0,-1.750)">LAD</text>
<text x="482.61" y="25.00" font-size="9.2" transform="matrix(1,0,0,1.07,0,-1.750)">Control</text>
<text x="49.75" y="42.00" font-size="9.2" transform="matrix(1,0,0,1.07,0,-2.940)">0</text>
<text x="65.24" y="42.00" font-size="9.2" transform="matrix(1,0,0,1.07,0,-2.940)">0.5</text>
<text x="90.76" y="42.00" font-size="9.2" transform="matrix(1,0,0,1.07,0,-2.940)">1</text>
<text x="110.87" y="42.00" font-size="9.2" transform="matrix(1,0,0,1.07,0,-2.940)">5</text>
<text x="135.75" y="42.00" font-size="9.2" transform="matrix(1,0,0,1.07,0,-2.940)">0</text>
<text x="150.69" y="42.00" font-size="9.2" transform="matrix(1,0,0,1.07,0,-2.940)">0.5</text>
<text x="176.56" y="42.00" font-size="9.2" transform="matrix(1,0,0,1.07,0,-2.940)">1</text>
<text x="196.32" y="42.00" font-size="9.2" transform="matrix(1,0,0,1.07,0,-2.940)">5</text>
<text x="279.64" y="39.00" font-size="10.8" transform="matrix(1,0,0,1.07,0,-2.730)">-</text>
<text x="299.14" y="40.00" font-size="10.8" transform="matrix(1,0,0,1.07,0,-2.800)">+</text>
<text x="322.69" y="39.00" font-size="10.8" transform="matrix(1,0,0,1.07,0,-2.730)">-</text>
<text x="343.64" y="40.00" font-size="10.8" transform="matrix(1,0,0,1.07,0,-2.800)">+</text>
<text x="428.34" y="39.00" font-size="10.8" transform="matrix(1,0,0,1.07,0,-2.730)">-</text>
<text x="453.94" y="40.00" font-size="10.8" transform="matrix(1,0,0,1.07,0,-2.800)">+</text>
<text x="478.19" y="39.00" font-size="10.8" transform="matrix(1,0,0,1.07,0,-2.730)">-</text>
<text x="501.64" y="40.00" font-size="10.8" transform="matrix(1,0,0,1.07,0,-2.800)">+</text>
<text x="20.47" y="275.00" font-size="8.4" transform="matrix(1,0,0,0.95,0,13.750)">0</text>
<text x="15.81" y="238.00" font-size="8.4" transform="matrix(1,0,0,0.95,0,11.900)">10</text>
<text x="15.81" y="200.00" font-size="8.4" transform="matrix(1,0,0,0.95,0,10.000)">20</text>
<text x="15.81" y="163.00" font-size="8.4" transform="matrix(1,0,0,0.95,0,8.150)">30</text>
<text x="29.07" y="285.00" font-size="8.4" transform="matrix(1,0,0,0.95,0,14.250)">0</text>
<text x="55.19" y="285.00" font-size="8.4" transform="matrix(1,0,0,0.95,0,14.250)">5</text>
<text x="78.91" y="285.00" font-size="8.4" transform="matrix(1,0,0,0.95,0,14.250)">10</text>
<text x="104.99" y="285.00" font-size="8.4" transform="matrix(1,0,0,0.95,0,14.250)">15</text>
<text x="131.32" y="285.00" font-size="8.4" transform="matrix(1,0,0,0.95,0,14.250)">20</text>
<text x="157.40" y="285.00" font-size="8.4" transform="matrix(1,0,0,0.95,0,14.250)">25</text>
<text x="78.43" y="137.00" font-size="9.2" transform="matrix(1,0,0,1.07,0,-9.590)">VCAM-1</text>
<text x="359.97" y="137.00" font-size="9.2" transform="matrix(1,0,0,1.07,0,-9.590)">α4-specific mAb</text>
<text x="45.44" y="299.9" font-size="8.3">Wall shear stress (dyne/cm<tspan font-size="5.81" dy="-3.4">2</tspan><tspan dy="3.4">)</tspan></text>
<text x="342.29" y="299.9" font-size="8.3">Wall shear stress (dyne/cm<tspan font-size="5.81" dy="-3.4">2</tspan><tspan dy="3.4">)</tspan></text>
<text transform="translate(13.0,209.25) rotate(-90)" font-size="8.35" text-anchor="middle">Percentage of Initially settled cells</text>
<text transform="translate(310.3,208.85) rotate(-90)" font-size="8.35" text-anchor="middle">Percentage of Initially settled cells</text>
<text x="245.04" y="169.00" font-size="8.4" transform="matrix(1,0,0,1.07,0,-11.830)">SDF-1</text>
<text x="208.16" y="187.00" font-size="8.4" transform="matrix(1,0,0,1.07,0,-13.090)">Control</text>
<text x="254.33" y="188.00" font-size="9.8" transform="matrix(1,0,0,1.07,0,-13.160)">+</text>
<text x="208.16" y="205.00" font-size="8.4" transform="matrix(1,0,0,1.07,0,-14.350)">Control</text>
<text x="255.56" y="204.00" font-size="9.8" transform="matrix(1,0,0,1.07,0,-14.280)">-</text>
<text x="207.95" y="233.00" font-size="8.4" transform="matrix(1,0,0,1.07,0,-16.310)">LAD</text>
<text x="254.33" y="234.00" font-size="9.8" transform="matrix(1,0,0,1.07,0,-16.380)">+</text>
<text x="207.95" y="252.00" font-size="8.4" transform="matrix(1,0,0,1.07,0,-17.640)">LAD</text>
<text x="255.56" y="250.00" font-size="9.8" transform="matrix(1,0,0,1.07,0,-17.500)">-</text>
<text x="319.57" y="275.00" font-size="8.4" transform="matrix(1,0,0,0.95,0,13.750)">0</text>
<text x="314.91" y="232.00" font-size="8.4" transform="matrix(1,0,0,0.95,0,11.600)">10</text>
<text x="314.91" y="188.00" font-size="8.4" transform="matrix(1,0,0,0.95,0,9.400)">20</text>
<text x="314.91" y="145.00" font-size="8.4" transform="matrix(1,0,0,0.95,0,7.250)">30</text>
<text x="329.07" y="285.00" font-size="8.4" transform="matrix(1,0,0,0.95,0,14.250)">0</text>
<text x="354.99" y="285.00" font-size="8.4" transform="matrix(1,0,0,0.95,0,14.250)">5</text>
<text x="378.51" y="285.00" font-size="8.4" transform="matrix(1,0,0,0.95,0,14.250)">10</text>
<text x="404.39" y="285.00" font-size="8.4" transform="matrix(1,0,0,0.95,0,14.250)">15</text>
<text x="430.52" y="285.00" font-size="8.4" transform="matrix(1,0,0,0.95,0,14.250)">20</text>
<text x="456.40" y="285.00" font-size="8.4" transform="matrix(1,0,0,0.95,0,14.250)">25</text>
<text x="397.41" y="202.00" font-size="5.8" transform="matrix(1,0,0,1.07,0,-14.140)">0</text>
<text x="394.19" y="184.00" font-size="5.8" transform="matrix(1,0,0,1.07,0,-12.880)">20</text>
<text x="394.19" y="166.00" font-size="5.8" transform="matrix(1,0,0,1.07,0,-11.620)">40</text>
<text x="394.19" y="147.00" font-size="5.8" transform="matrix(1,0,0,1.07,0,-10.290)">60</text>
<text x="401.05" y="206.00" font-size="5.6" transform="matrix(1,0,0,1.07,0,-14.420)">0</text>
<text x="412.27" y="206.00" font-size="5.6" transform="matrix(1,0,0,1.07,0,-14.420)">5</text>
<text x="421.90" y="206.00" font-size="5.6" transform="matrix(1,0,0,1.07,0,-14.420)">10</text>
<text x="433.10" y="206.00" font-size="5.6" transform="matrix(1,0,0,1.07,0,-14.420)">15</text>
<text x="444.47" y="206.00" font-size="5.6" transform="matrix(1,0,0,1.07,0,-14.420)">20</text>
<text x="455.66" y="206.00" font-size="5.6" transform="matrix(1,0,0,1.07,0,-14.420)">25</text>
</g></svg></body></html>
